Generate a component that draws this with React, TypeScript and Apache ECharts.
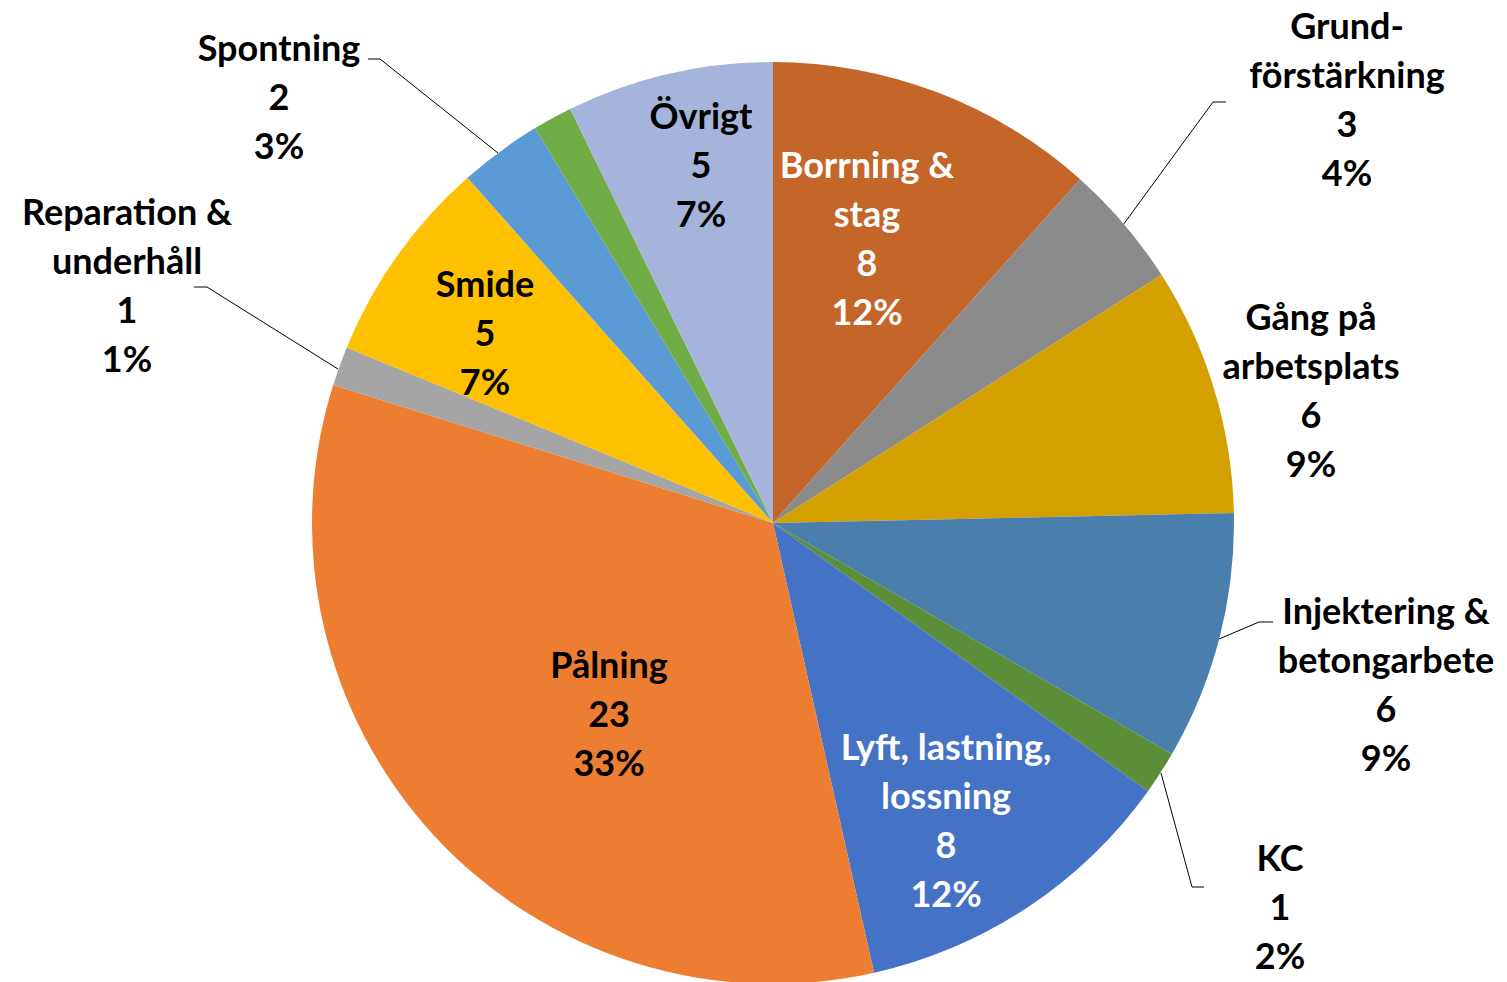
import React, { useEffect, useRef } from "react";
import * as echarts from "echarts";

const categories = [
  "Borrning &\nstag",
  "Grund-\nförstärkning",
  "Gång på\narbetsplats",
  "Injektering &\nbetongarbete",
  "KC",
  "Lyft, lastning,\nlossning",
  "Pålning",
  "Reparation &\nunderhåll",
  "Smide",
  "Spontning",
  "",
  "Övrigt",
];
const values = [8, 3, 6, 6, 1.05, 8, 23, 0.95, 5, 2, 0.95, 5];
const colors = [
  "#C4652A",
  "#8B8B8B",
  "#D4A000",
  "#4A7EAD",
  "#5B8F3A",
  "#4472C4",
  "#ED7D31",
  "#A5A5A5",
  "#FFC000",
  "#5B9BD5",
  "#70AD47",
  "#A5B4DA",
];
const labelColors = ["#fff", "#000", "#000", "#000", "#000", "#fff", "#000", "#000", "#000", "#000", "#000", "#000"];
const showLabel = [true, true, true, true, true, true, true, true, true, true, false, true];

// label block centres and leader lines (layout only)
const labelPos: [number, number][] = [
  [867, 237],
  [1347, 98],
  [1311, 389],
  [1386, 683],
  [1280, 906],
  [946, 819],
  [609, 713],
  [127, 284],
  [485, 332],
  [279, 96],
  [0, 0],
  [701, 164],
];
const leaderLines: (number[][] | null)[] = [
  null,
  [[1123, 225], [1213, 102], [1226, 102]],
  null,
  [[1219, 639], [1259, 622], [1273, 622]],
  [[1161, 773], [1192, 887], [1204, 887]],
  null,
  null,
  [[338, 369], [207, 287], [194, 287]],
  null,
  [[498, 153], [380, 59], [368, 59]],
  null,
  null,
];

export default function App() {
  const ref = useRef<HTMLDivElement>(null);
  useEffect(() => {
    if (!ref.current) return;
    const chart = echarts.init(ref.current, null, { renderer: "svg" });
    const data = categories.map((name, i) => ({
      name,
      value: values[i],
      itemStyle: { color: colors[i] },
      label: { show: showLabel[i], color: labelColors[i] },
      labelLine: { show: leaderLines[i] !== null },
    }));
    chart.setOption({
      animation: false,
      backgroundColor: "#ffffff",
      series: [
        {
          type: "pie",
          center: [773, 523],
          radius: 461,
          startAngle: 90,
          clockwise: true,
          avoidLabelOverlap: false,
          percentPrecision: 2,
          itemStyle: { borderWidth: 0 },
          label: {
            show: true,
            position: "outside",
            fontFamily: "Lato",
            fontWeight: "bold",
            fontSize: 36,
            lineHeight: 49,
            align: "center",
            formatter: (p: any) => `${p.name}\n${Math.round(p.value)}\n${Math.round(p.percent)}%`,
          },
          labelLine: {
            show: true,
            lineStyle: { color: "#000", width: 1 },
          },
          labelLayout: (p: any) => {
            const i = p.dataIndex;
            const pos = labelPos[i];
            const res: any = { x: pos[0], y: pos[1], align: "center", verticalAlign: "middle" };
            if (leaderLines[i]) res.labelLinePoints = leaderLines[i];
            return res;
          },
          emphasis: { disabled: true },
          data,
        },
      ],
    });
    return () => chart.dispose();
  }, []);
  return (
    <div
      ref={ref}
      style={{ position: "fixed", left: 0, top: 0, width: 1507, height: 982 }}
    />
  );
}
